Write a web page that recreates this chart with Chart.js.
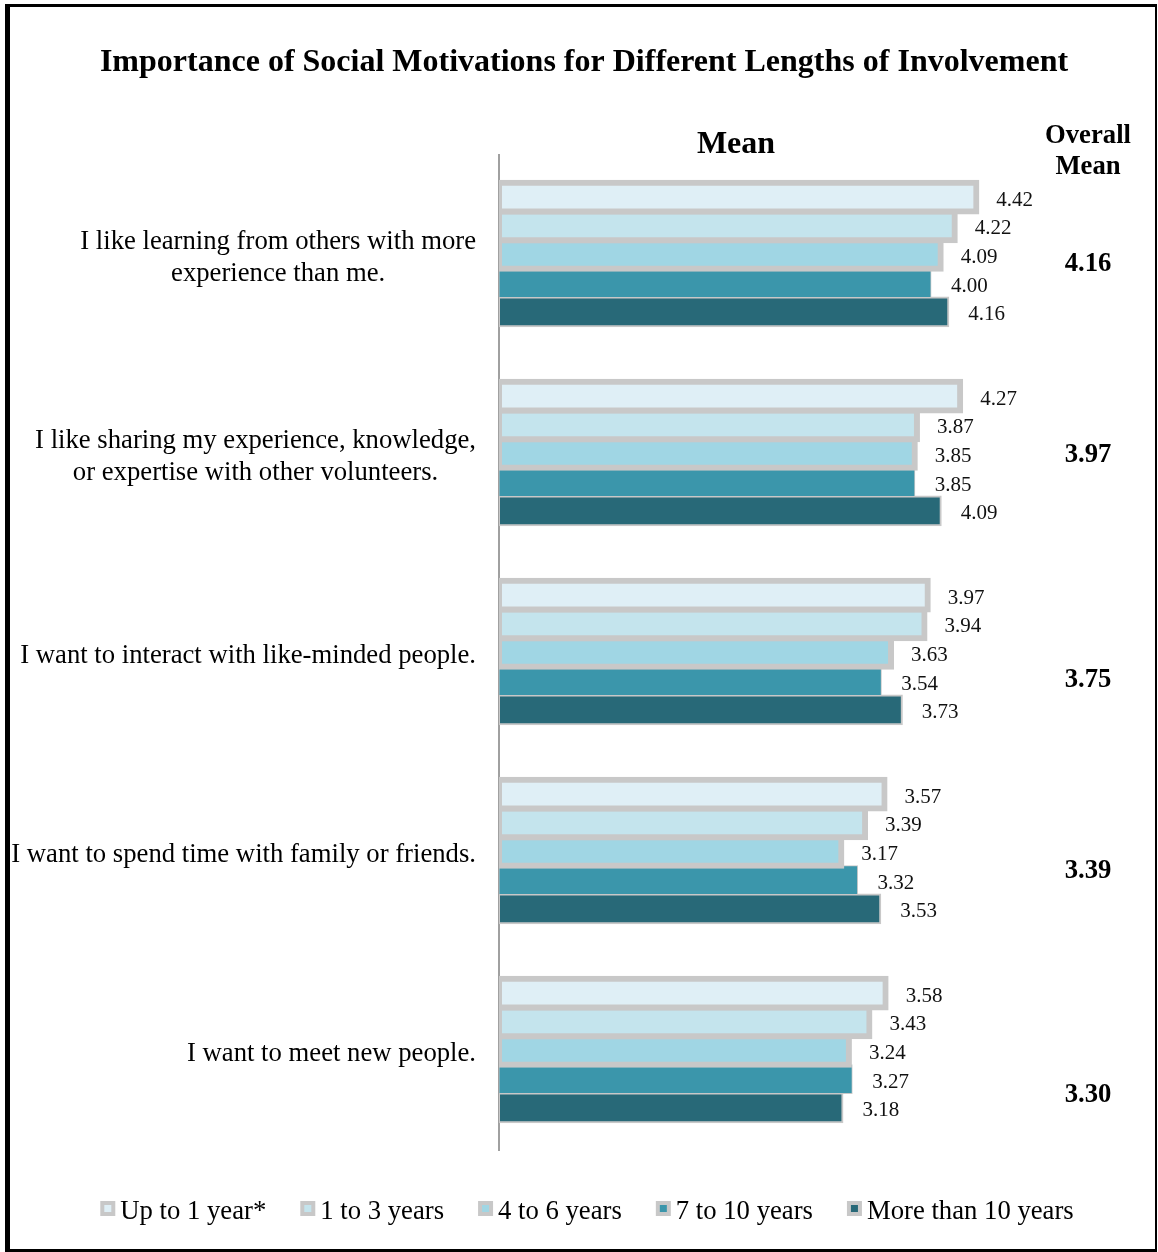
<!DOCTYPE html>
<html>
<head>
<meta charset="utf-8">
<title>Social Motivations by Length of Involvement</title>
<script src="https://cdn.jsdelivr.net/npm/chart.js@4"></script>
<style>
  body { margin: 0; background: #fff; }
  #wrap { width: 1158px; height: 1252px; position: relative; }
</style>
</head>
<body>
<div id="wrap"><canvas id="motivChart"></canvas></div>
<script>
const categories = [
  ["I like learning from others with more", "experience than me."],
  ["I like sharing my experience, knowledge,", "or expertise with other volunteers."],
  "I want to interact with like-minded people.",
  "I want to spend time with family or friends.",
  "I want to meet new people."
];
const seriesLabels = ["Up to 1 year*", "1 to 3 years", "4 to 6 years", "7 to 10 years", "More than 10 years"];
const upTo1Year = [4.42, 4.27, 3.97, 3.57, 3.58];
const oneTo3Years = [4.22, 3.87, 3.94, 3.39, 3.43];
const fourTo6Years = [4.09, 3.85, 3.63, 3.17, 3.24];
const sevenTo10Years = [4.00, 3.85, 3.54, 3.32, 3.27];
const moreThan10Years = [4.16, 4.09, 3.73, 3.53, 3.18];
const overallMean = [4.16, 3.97, 3.75, 3.39, 3.30];

const SERIF = "'Liberation Serif', 'Times New Roman', serif";
const fills = ["#dfeff6", "#c4e4ed", "#a0d6e4", "#3b96ab", "#286978"];
const borderWidths = [6, 6, 6, 1, 2];
const inflates = [3, 3, 3, 0.5, 1];
const seriesValues = [upTo1Year, oneTo3Years, fourTo6Years, sevenTo10Years, moreThan10Years];

const datasets = seriesValues.map((vals, i) => ({
  label: seriesLabels[i],
  data: vals,
  backgroundColor: fills[i],
  borderColor: "#c8c8c8",
  borderWidth: borderWidths[i],
  borderSkipped: false,
  inflateAmount: inflates[i],
  categoryPercentage: 0.72,
  barPercentage: 1.0
}));

// text, frame, legend and value labels
const decorations = {
  id: "decorations",
  afterDatasetsDraw(chart) {
    const ctx = chart.ctx;
    ctx.save();
    ctx.fillStyle = "#111";
    ctx.textAlign = "left";
    ctx.textBaseline = "middle";
    ctx.font = "21px " + SERIF;
    chart.data.datasets.forEach((ds, di) => {
      const meta = chart.getDatasetMeta(di);
      meta.data.forEach((bar, i) => {
        ctx.fillText(ds.data[i].toFixed(2), bar.x + 20, bar.y + 3);
      });
    });
    ctx.restore();
  },
  afterDraw(chart) {
    const ctx = chart.ctx;
    const yScale = chart.scales.y;
    ctx.save();

    // frame
    ctx.fillStyle = "#000";
    ctx.fillRect(5, 4, 5, 1248);
    ctx.fillRect(5, 4, 1152, 3);
    ctx.fillRect(1155, 4, 2, 1248);
    ctx.fillRect(5, 1249, 1152, 3);

    ctx.fillStyle = "#000";
    ctx.textAlign = "center";
    ctx.textBaseline = "middle";
    ctx.font = "bold 32px " + SERIF;
    ctx.fillText("Importance of Social Motivations for Different Lengths of Involvement", 584, 63);
    ctx.fillText("Mean", 736, 145);
    ctx.font = "bold 26.7px " + SERIF;
    ctx.fillText("Overall", 1088, 136);
    ctx.fillText("Mean", 1088, 167);

    // overall mean column
    const nudges = [10, 2, 28, 20, 45];
    overallMean.forEach((v, i) => {
      ctx.fillText(v.toFixed(2), 1088, yScale.getPixelForValue(i) + nudges[i]);
    });

    // category labels: block right-aligned to the axis, lines centred in the block
    ctx.font = "26.7px " + SERIF;
    const labelRight = yScale.right - 23;
    categories.forEach((lab, i) => {
      const lines = Array.isArray(lab) ? lab : [lab];
      const blockW = Math.max(...lines.map(l => ctx.measureText(l).width));
      const cx = labelRight - blockW / 2;
      const yc = yScale.getPixelForValue(i);
      lines.forEach((l, j) => {
        ctx.fillText(l, cx, yc + (j - (lines.length - 1) / 2) * 32 + 3);
      });
    });

    // legend
    const box = 15, boxGap = 5, itemGap = 34;
    const widths = seriesLabels.map(t => box + boxGap + ctx.measureText(t).width);
    const total = widths.reduce((a, b) => a + b, 0) + itemGap * (widths.length - 1);
    let x = 587 - total / 2;
    const ly = 1210;
    ctx.textAlign = "left";
    seriesLabels.forEach((t, i) => {
      ctx.fillStyle = "#c8c8c8";
      ctx.fillRect(x, ly - 9, box, box);
      ctx.fillStyle = fills[i];
      ctx.fillRect(x + 4, ly - 5, box - 8, box - 8);
      ctx.fillStyle = "#000";
      ctx.fillText(t, x + box + boxGap, ly + 2);
      x += widths[i] + itemGap;
    });
    ctx.restore();
  }
};

new Chart(document.getElementById("motivChart"), {
  type: "bar",
  data: { labels: categories, datasets: datasets },
  options: {
    indexAxis: "y",
    responsive: true,
    maintainAspectRatio: false,
    animation: false,
    layout: { padding: { top: 155, bottom: 102, right: 119, left: 0 } },
    scales: {
      x: { display: false, min: 0, max: 5 },
      y: {
        z: 1,
        grid: { display: false, drawTicks: false },
        border: { display: true, color: "#a0a0a0", width: 2 },
        ticks: { display: false },
        afterFit(scale) { scale.width = 499; }
      }
    },
    plugins: {
      legend: { display: false },
      tooltip: { enabled: false }
    }
  },
  plugins: [decorations]
});
</script>
</body>
</html>
